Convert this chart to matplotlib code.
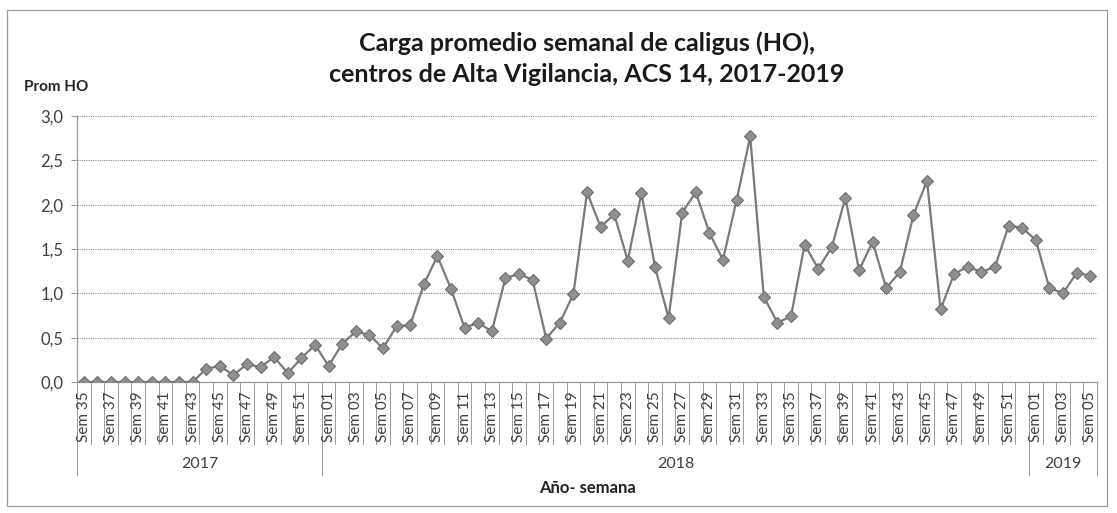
import matplotlib
matplotlib.use("Agg")
import matplotlib.pyplot as plt
from matplotlib.patches import Rectangle
import matplotlib.transforms as mtransforms

plt.rcParams['font.family'] = ['Lato', 'DejaVu Sans']

# ---- data ----
years = ["2017", "2018", "2019"]
weeks_2017 = [f"Sem {w:02d}" for w in range(35, 53)]
weeks_2018 = [f"Sem {w:02d}" for w in range(1, 53)]
weeks_2019 = [f"Sem {w:02d}" for w in range(1, 6)]

values_2017 = [0.0, 0.0, 0.0, 0.0, 0.0, 0.0, 0.0, 0.0, 0.0,
               0.15, 0.18, 0.08, 0.20, 0.17, 0.28, 0.10, 0.27, 0.42]
values_2018 = [0.18, 0.43, 0.57, 0.53, 0.38, 0.63, 0.64, 1.10, 1.42, 1.05,
               0.61, 0.67, 0.57, 1.17, 1.22, 1.15, 0.49, 0.67, 0.99, 2.14,
               1.75, 1.89, 1.37, 2.13, 1.30, 0.72, 1.91, 2.14, 1.68, 1.38,
               2.05, 2.77, 0.96, 0.67, 0.74, 1.55, 1.28, 1.52, 2.08, 1.26,
               1.58, 1.06, 1.24, 1.88, 2.27, 0.82, 1.22, 1.30, 1.24, 1.30,
               1.76, 1.74]
values_2019 = [1.60, 1.06, 1.00, 1.23, 1.20]

y_ticks = [0.0, 0.5, 1.0, 1.5, 2.0, 2.5, 3.0]

week_groups = [weeks_2017, weeks_2018, weeks_2019]
value_groups = [values_2017, values_2018, values_2019]

labels = [w for g in week_groups for w in g]
values = [v for g in value_groups for v in g]
x = list(range(len(labels)))

W, H = 1117, 513
fig = plt.figure(figsize=(W / 100, H / 100), dpi=100)
ax = fig.add_axes([77 / W, 1 - 382 / H, (1097 - 77) / W, (382 - 116) / H])

# outer border
fig.patches.append(Rectangle((7 / W, 1 - 506 / H), (1107 - 7) / W, (506 - 10) / H,
                             transform=fig.transFigure, fill=False,
                             edgecolor="#9a9a9a", linewidth=0.9))

# gridlines
for t in y_ticks:
    ax.axhline(t, color="#8c8c8c", linestyle=(0, (1, 1)), linewidth=0.8, zorder=1)

ax.plot(x, values, color="#7a7a7a", linewidth=1.6, marker="D", markersize=6.5,
        markerfacecolor="#8f8f8f", markeredgecolor="#6e6e6e", markeredgewidth=0.8,
        zorder=3)

ax.set_xlim(-0.5, len(labels) - 0.5)
ax.set_ylim(0, 3.0)
ax.set_yticks(y_ticks)
ax.set_yticklabels([f"{t:.1f}".replace(".", ",") for t in y_ticks],
                   fontsize=12, color="#404040")
ax.tick_params(axis="y", length=4, color="#9a9a9a", pad=6)
ax.set_xticks([])

for s in ["top", "right"]:
    ax.spines[s].set_visible(False)
ax.spines["left"].set_color("#9a9a9a")
ax.spines["bottom"].set_color("#9a9a9a")
ax.spines["left"].set_linewidth(0.9)
ax.spines["bottom"].set_linewidth(0.9)

trans = mtransforms.blended_transform_factory(ax.transData, ax.transAxes)

# category separators
for i in range(len(labels) + 1):
    ax.plot([i - 0.5, i - 0.5], [0, -0.232], transform=trans, color="#9a9a9a",
            linewidth=0.7, clip_on=False)

# week labels (every other)
for i, lab in enumerate(labels):
    if i % 2 == 0:
        ax.text(i, -0.035, lab, transform=trans, rotation=90, ha="center", va="top",
                fontsize=11, color="#404040")

# year separators and labels
start = 0
bounds = [-0.5]
for yr, g in zip(years, week_groups):
    end = start + len(g)
    bounds.append(end - 0.5)
    ax.text((start + end - 1) / 2, -0.31, yr, transform=trans, ha="center",
            va="center", fontsize=11.5, color="#404040")
    start = end
for b in bounds:
    ax.plot([b, b], [0, -0.35], transform=trans, color="#9a9a9a",
            linewidth=0.7, clip_on=False)

ax.text(0.5, -0.40, "Año- semana", transform=ax.transAxes, ha="center",
        va="center", fontsize=12, fontweight="bold", color="#222222")

fig.text(587 / W, 1 - 43 / H, "Carga promedio semanal de caligus (HO),",
         ha="center", va="center", fontsize=18, fontweight="bold", color="#1a1a1a")
fig.text(587 / W, 1 - 75 / H, "centros de Alta Vigilancia, ACS 14, 2017-2019",
         ha="center", va="center", fontsize=18, fontweight="bold", color="#1a1a1a")
fig.text(24 / W, 1 - 87 / H, "Prom HO", ha="left", va="center", fontsize=11,
         fontweight="bold", color="#222222")

fig.savefig("out.png", dpi=100, facecolor="white")
